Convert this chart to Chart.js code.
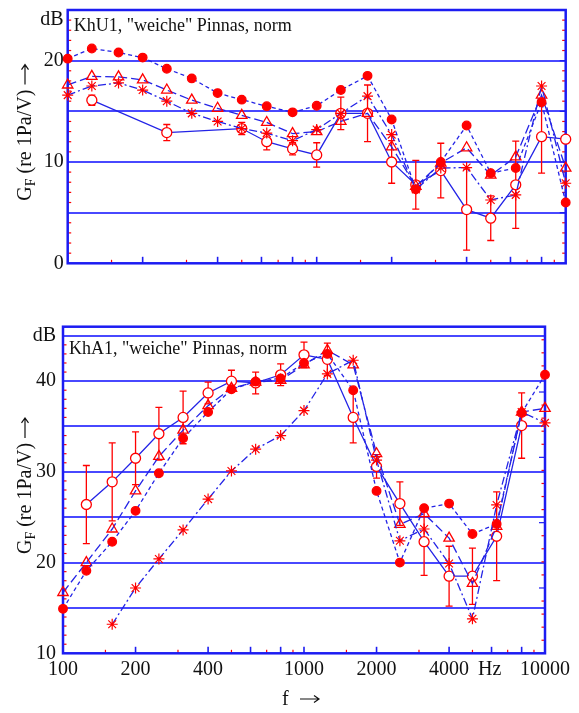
<!DOCTYPE html>
<html>
<head>
<meta charset="utf-8">
<script src="https://cdn.jsdelivr.net/npm/chart.js@4.4.1/dist/chart.umd.min.js"></script>
<style>
  html, body { margin: 0; padding: 0; background: #fff; }
  #wrap { position: relative; width: 579px; height: 713px; }
  #wrap canvas { position: absolute; left: 0; }
</style>
</head>
<body>
<div id="wrap">
  <canvas id="chartKhU1" width="579" height="290" style="top:0"></canvas>
  <canvas id="chartKhA1" width="579" height="423" style="top:290px"></canvas>
</div>
<script>
// Terzband-Mittenfrequenzen (Hz)
const freqs = [100, 125, 160, 200, 250, 315, 400, 500, 630, 800, 1000, 1250, 1600, 2000, 2500, 3150, 4000, 5000, 6300, 8000, 10000];

// KhU1 – Übertragungsmaß G_F in dB
const u1Filled = [20.2, 21.2, 20.8, 20.3, 19.2, 18.25, 16.8, 16.15, 15.5, 14.9, 15.55, 17.1, 18.5, 14.2, 7.3, 10.0, 13.6, 8.9, 9.4, 15.9, 6.0];
const u1Tri    = [17.6, 18.45, 18.4, 18.1, 17.1, 16.1, 15.3, 14.6, 13.9, 12.8, 13.0, 14.0, 14.8, 11.5, 7.6, 9.9, 11.4, 8.7, 10.5, 16.6, 9.4];
const u1Star   = [16.6, 17.5, 17.8, 17.1, 16.0, 14.8, 14.0, 13.3, 12.85, 12.1, 13.2, 14.8, 16.5, 12.7, 7.3, 9.4, 9.45, 6.25, 6.75, 17.5, 7.9];
const u1Open   = [null, 16.1, null, null, 12.9, null, null, 13.3, 12.0, 11.3, 10.7, 14.8, 14.8, 10.0, 7.75, 9.15, 5.3, 4.45, 7.75, 12.5, 12.25];
const u1Err    = [0, 0.5, 0, 0, 0.8, 0, 0, 0.6, 0.8, 0.6, 1.2, 1.6, 2.8, 2.1, 2.4, 2.7, 4.0, 2.2, 4.3, 3.6, 0];

// KhA1
const a1Filled = [14.9, 19.1, 22.3, 25.7, 29.85, 33.7, 36.6, 39.1, 39.95, 40.3, 42.0, 43.0, 39.0, 27.9, 20.0, 26.0, 26.5, 23.15, 24.25, 36.5, 40.7];
const a1Tri    = [16.7, 20.0, 23.7, 27.9, 31.7, 34.6, 37.3, 39.2, 39.9, 40.1, 41.8, 43.4, 41.8, 32.0, 24.2, 25.4, 22.7, 17.7, 24.0, 36.6, 37.0];
const a1Star   = [null, null, 13.2, 17.2, 20.4, 23.6, 27.0, 30.1, 32.5, 34.0, 36.75, 40.8, 42.3, 31.3, 22.4, 23.7, 19.9, 13.8, 26.35, 36.6, 35.4];
const a1Open   = [null, 26.4, 28.9, 31.5, 34.2, 36.0, 38.7, 40.0, 39.8, 40.7, 42.9, 42.4, 36.0, 30.6, 26.5, 22.3, 18.5, 18.5, 22.9, 35.1, null];
const a1Err    = [0, 4.3, 4.3, 2.9, 2.9, 2.9, 1.2, 1.2, 1.2, 1.2, 1.4, 1.8, 2.8, 1.3, 2.4, 3.7, 3.3, 3.1, 4.9, 3.6, 0];

// Achsenbeschriftung
const u1YTicks  = [0, 5, 10, 15, 20, 24];
const u1YLabels = ['0', '', '10', '', '20', 'dB'];
const a1YTicks  = [10, 15, 20, 25, 30, 35, 40, 45];
const a1YLabels = ['10', '', '20', '', '30', '', '40', 'dB'];
const xTickVals = [100, 200, 400, 1000, 2000, 4000, 5900, 10000];
const xTickText = ['100', '200', '400', '1000', '2000', '4000', 'Hz', '10000'];
const xMinorRed  = [150, 300, 500, 700, 900, 1500, 3000, 5000, 7000, 9000];
const xMinorBlue = [200, 400, 600, 800, 1000, 2000, 4000, 6000, 8000];

const BLUE  = '#2323e6';
const FRAME = '#1c1cf2';
const GRID  = '#4848ff';
const RED   = '#ff0000';
const SERIF = '"Liberation Serif", "DejaVu Serif", serif';

function pts(vals) {
    return freqs.map((f, i) => ({ x: f, y: vals[i] }));
}

// Pfeil nach rechts (im aktuellen Koordinatensystem), x0 = Anfang, y0 = Mitte
function arrow(ctx, x0, y0, len) {
    ctx.save();
    ctx.strokeStyle = '#111';
    ctx.lineWidth = 1.2;
    ctx.beginPath();
    ctx.moveTo(x0, y0); ctx.lineTo(x0 + len, y0);
    ctx.moveTo(x0 + len - 5, y0 - 3.5); ctx.lineTo(x0 + len, y0); ctx.lineTo(x0 + len - 5, y0 + 3.5);
    ctx.stroke();
    ctx.restore();
}

// Rahmen, Skalenstriche nach innen, Fehlerbalken, Texte
const plotDecor = {
    id: 'plotDecor',
    beforeDatasetsDraw(chart, args, o) {
        const { ctx, chartArea: a, scales: { x, y } } = chart;
        ctx.save();

        // Striche links (jede dB) und rechts (eigene Teilung)
        ctx.lineWidth = 1.2;
        for (let v = Math.ceil(y.min); v <= y.max; v++) {
            if (v % 5 === 0) continue;
            const py = y.getPixelForValue(v);
            ctx.strokeStyle = RED;
            ctx.beginPath(); ctx.moveTo(a.left, py); ctx.lineTo(a.left + 3.5, py); ctx.stroke();
        }
        for (let k = -20; k < 40; k++) {
            const v = o.rightBase + k * o.rightStep;
            if (v <= y.min || v >= y.max) continue;
            const py = y.getPixelForValue(v);
            const major = k % 5 === 0;
            ctx.strokeStyle = major ? FRAME : RED;
            ctx.beginPath(); ctx.moveTo(a.right, py); ctx.lineTo(a.right - (major ? 6 : 3.5), py); ctx.stroke();
        }
        // Striche unten
        xMinorRed.forEach(f => {
            const px = x.getPixelForValue(f);
            ctx.strokeStyle = RED;
            ctx.beginPath(); ctx.moveTo(px, a.bottom); ctx.lineTo(px, a.bottom - 3.5); ctx.stroke();
        });
        xMinorBlue.forEach(f => {
            const px = x.getPixelForValue(f);
            ctx.strokeStyle = FRAME;
            ctx.lineWidth = 1.6;
            ctx.beginPath(); ctx.moveTo(px, a.bottom); ctx.lineTo(px, a.bottom - 6.5); ctx.stroke();
        });

        // Fehlerbalken (Streuung)
        ctx.strokeStyle = RED;
        ctx.lineWidth = 1.3;
        chart.data.datasets.forEach(ds => {
            if (!ds.errors) return;
            ds.data.forEach((p, j) => {
                const e = ds.errors[j];
                if (p.y == null || !e) return;
                const px = x.getPixelForValue(p.x);
                const t = y.getPixelForValue(p.y + e);
                const b = y.getPixelForValue(p.y - e);
                ctx.beginPath();
                ctx.moveTo(px, t); ctx.lineTo(px, b);
                ctx.moveTo(px - 3.5, t); ctx.lineTo(px + 3.5, t);
                ctx.moveTo(px - 3.5, b); ctx.lineTo(px + 3.5, b);
                ctx.stroke();
            });
        });

        // Rahmen
        ctx.strokeStyle = FRAME;
        ctx.lineWidth = 2.5;
        ctx.strokeRect(a.left, a.top, a.right - a.left, a.bottom - a.top);
        ctx.restore();
    },
    afterDraw(chart, args, o) {
        const { ctx, chartArea: a } = chart;
        ctx.save();
        ctx.fillStyle = '#111';

        // Diagrammtitel
        ctx.font = '18px ' + SERIF;
        ctx.textAlign = 'left';
        ctx.textBaseline = 'alphabetic';
        ctx.fillText(o.title, a.left + 6, a.top + o.titleDy);

        // y-Achsentitel: G_F (re 1Pa/V) →
        ctx.translate(31, (a.top + a.bottom) / 2 - 4);
        ctx.rotate(-Math.PI / 2);
        const big = '20px ' + SERIF, small = '14px ' + SERIF;
        const rest = ' (re 1Pa/V) ';
        const arrowLen = 20;
        ctx.font = big;
        const wG = ctx.measureText('G').width;
        const wR = ctx.measureText(rest).width;
        ctx.font = small;
        const wF = ctx.measureText('F').width;
        const sx = -(wG + wF + wR + arrowLen) / 2;
        ctx.font = big;
        ctx.fillText('G', sx, 0);
        ctx.font = small;
        ctx.fillText('F', sx + wG, 4);
        ctx.font = big;
        ctx.fillText(rest, sx + wG + wF, 0);
        arrow(ctx, sx + wG + wF + wR, -6, arrowLen);
        ctx.restore();

        // x-Achsentitel
        if (o.xTitle) {
            ctx.save();
            ctx.fillStyle = '#111';
            ctx.font = '20px ' + SERIF;
            ctx.textBaseline = 'alphabetic';
            ctx.fillText('f', 282, o.xTitleY);
            arrow(ctx, 300, o.xTitleY - 6, 19);
            ctx.restore();
        }
    }
};

function makePanel(id, cfg) {
    const line = (vals, extra) => Object.assign({
        data: pts(vals),
        borderColor: BLUE,
        borderWidth: 1.3,
        pointBorderColor: RED,
        pointBorderWidth: 1.3,
        clip: false,
        fill: false,
        tension: 0,
    }, extra);

    return new Chart(document.getElementById(id), {
        type: 'line',
        data: {
            datasets: [
                line(cfg.filled, { label: 'gefüllt', order: 0, borderDash: [4, 3],
                    pointStyle: 'circle', pointRadius: 4.3, pointBackgroundColor: RED }),
                line(cfg.star, { label: 'Stern', order: 1, borderDash: [8, 3, 2, 3],
                    pointStyle: 'star', pointRadius: 5.5, pointBorderWidth: 1.2 }),
                line(cfg.tri, { label: 'Dreieck', order: 2, borderDash: [9, 4],
                    pointStyle: 'triangle', pointRadius: 6, pointBackgroundColor: 'rgba(255,255,255,0)' }),
                line(cfg.open, { label: 'offen', order: 3, spanGaps: true,
                    pointStyle: 'circle', pointRadius: 5, pointBackgroundColor: '#fff',
                    errors: cfg.err }),
            ],
        },
        options: {
            responsive: false,
            animation: false,
            events: [],
            layout: { padding: cfg.padding },
            scales: {
                x: {
                    type: 'logarithmic',
                    min: 100,
                    max: 10000,
                    grid: { display: false, drawTicks: false },
                    border: { display: false },
                    afterBuildTicks: s => { s.ticks = xTickVals.map(v => ({ value: v })); },
                    afterFit: s => { s.height = cfg.xHeight; s.paddingLeft = 0; s.paddingRight = 0; },
                    ticks: {
                        display: cfg.xLabels,
                        autoSkip: false,
                        maxRotation: 0,
                        padding: 4,
                        color: '#111',
                        font: { family: SERIF, size: 20 },
                        callback: (v, i) => xTickText[i],
                    },
                },
                y: {
                    min: cfg.yMin,
                    max: cfg.yMax,
                    border: { display: false },
                    grid: {
                        drawTicks: false,
                        lineWidth: 2,
                        color: c => (c.tick && c.tick.value % 5 === 0 &&
                            c.tick.value > cfg.yMin && c.tick.value < cfg.yMax) ? GRID : 'rgba(0,0,0,0)',
                    },
                    afterBuildTicks: s => { s.ticks = cfg.yTicks.map(v => ({ value: v })); },
                    afterFit: s => { s.width = cfg.yWidth; s.paddingTop = 0; s.paddingBottom = 0; },
                    ticks: {
                        padding: cfg.yPad,
                        color: '#111',
                        font: { family: SERIF, size: 20 },
                        callback: (v, i) => cfg.yLabels[i],
                    },
                },
            },
            plugins: {
                legend: { display: false },
                tooltip: { enabled: false },
                plotDecor: {
                    title: cfg.title,
                    titleDy: cfg.titleDy,
                    rightBase: cfg.rightBase,
                    rightStep: cfg.rightStep,
                    xTitle: cfg.xLabels,
                    xTitleY: cfg.xTitleY,
                },
            },
        },
        plugins: [plotDecor],
    });
}

// oberes Diagramm: KhU1
makePanel('chartKhU1', {
    title: 'KhU1, "weiche" Pinnas, norm',
    filled: u1Filled, tri: u1Tri, star: u1Star, open: u1Open, err: u1Err,
    yMin: 0, yMax: 25, yTicks: u1YTicks, yLabels: u1YLabels,
    padding: { top: 10, right: 13.3, left: 0, bottom: 0 },
    yWidth: 67.7, yPad: 4, xHeight: 26.7, xLabels: false,
    titleDy: 20.5, rightBase: 0, rightStep: 1,
});

// unteres Diagramm: KhA1
makePanel('chartKhA1', {
    title: 'KhA1, "weiche" Pinnas, norm',
    filled: a1Filled, tri: a1Tri, star: a1Star, open: a1Open, err: a1Err,
    yMin: 10, yMax: 46, yTicks: a1YTicks, yLabels: a1YLabels,
    padding: { top: 36.7, right: 34, left: 0, bottom: 0 },
    yWidth: 63, yPad: 7, xHeight: 59.7, xLabels: true,
    titleDy: 27.6, rightBase: 17.2, rightStep: 1.44,
    xTitleY: 415,
});
</script>
</body>
</html>
